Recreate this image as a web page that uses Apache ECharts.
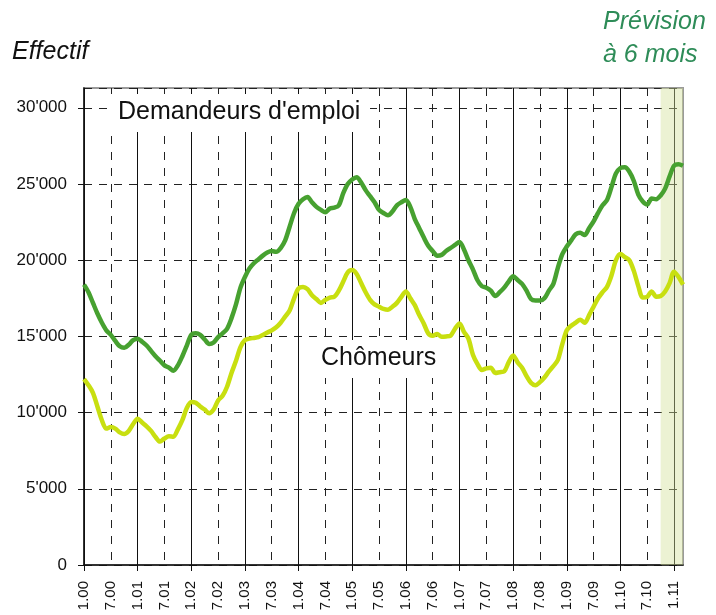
<!DOCTYPE html>
<html>
<head>
<meta charset="utf-8">
<script src="https://cdn.jsdelivr.net/npm/echarts@6/dist/echarts.min.js"></script>
<style>
html,body{margin:0;padding:0;background:#fff;}
#chart{width:716px;height:615px;}
</style>
</head>
<body>
<div id="chart"></div>
<script>
// Years covered (Jan 2000 .. Mar 2011), month labels "m.yy"
const years = ['00','01','02','03','04','05','06','07','08','09','10','11'];
const lastYearMonths = 3;

// Demandeurs d'emploi (monthly, Jan 2000 -> Mar 2011)
const demandeurs = [
  18400,17900,17200,16500,15900,15400,15100,14700,14350,14250,14450,14750,
  14850,14650,14400,14050,13700,13400,13100,12950,12750,13100,13700,14400,
  15100,15200,15100,14800,14500,14600,14950,15200,15500,16200,17100,18200,
  18900,19450,19800,20050,20300,20500,20600,20550,20800,21300,22200,23100,
  23700,24000,24150,23800,23500,23300,23150,23400,23450,23600,24400,25000,
  25300,25450,25100,24600,24200,23800,23300,23100,22950,23200,23600,23800,
  23950,23500,22700,22100,21500,20950,20600,20300,20350,20600,20800,21000,
  21200,20700,20000,19400,18700,18300,18200,18000,17650,17900,18200,18600,
  18950,18700,18450,18000,17450,17350,17350,17500,18000,18450,19500,20400,
  20900,21300,21700,21800,21650,22100,22550,23100,23600,23950,24800,25700,
  26050,26100,25800,25200,24300,23850,23650,24050,24000,24250,24700,25500,
  26200,26300,26200
];

// Chômeurs (monthly, Jan 2000 -> Mar 2011)
const chomeurs = [
  12200,11800,11300,10400,9500,8950,9050,8950,8700,8600,8800,9250,
  9600,9350,9100,8800,8400,8100,8300,8450,8420,8900,9500,10300,
  10700,10650,10400,10200,9950,10200,10800,11100,11700,12600,13400,14300,
  14750,14850,14900,14950,15100,15250,15400,15600,15900,16300,16700,17500,
  18150,18250,18100,17700,17450,17200,17400,17550,17600,18000,18600,19200,
  19350,19100,18500,17900,17400,17100,16950,16800,16750,16950,17200,17600,
  17950,17500,17050,16400,15850,15200,15050,15150,14980,15000,15050,15500,
  15850,15300,14850,13800,13200,12800,12900,12950,12600,12650,12700,13300,
  13750,13300,12950,12400,11950,11800,12000,12300,12700,13050,13450,14500,
  15400,15700,15900,16100,15900,16400,16950,17500,17900,18250,19000,20000,
  20400,20200,20000,19300,18300,17550,17600,17950,17600,17650,17950,18500,
  19250,18900,18400
];

const yTicks = [0, 5000, 10000, 15000, 20000, 25000, 30000];
const forecastStart = '10.10';
const forecastEnd = '3.11';

const categories = [];
years.forEach((yy, i) => {
  const n = (i === years.length - 1) ? lastYearMonths : 12;
  for (let m = 1; m <= n; m++) categories.push(m + '.' + yy);
});

const chart = echarts.init(document.getElementById('chart'), null, {renderer: 'canvas'});

const baseX = {
  type: 'category',
  data: categories,
  boundaryGap: false,
  gridIndex: 0
};

chart.setOption({
  animation: false,
  backgroundColor: '#fff',
  grid: {
    left: 84, right: 33, top: 88, bottom: 50,
    show: true, borderColor: '#9a9a9a', borderWidth: 2, backgroundColor: 'transparent'
  },
  xAxis: [
    Object.assign({}, baseX, {
      position: 'bottom',
      axisLine: {show: true, lineStyle: {color: '#111', width: 1.5}},
      axisTick: {show: true, length: 6, interval: (i) => i % 12 === 0, lineStyle: {color: '#111'}},
      axisLabel: {
        show: true, rotate: 90, interval: (i) => i % 6 === 0, margin: 16,
        fontFamily: 'Liberation Sans, Arial, sans-serif', fontSize: 15, color: '#111'
      },
      splitLine: {show: true, interval: (i) => i % 12 === 0, lineStyle: {color: '#111', width: 1, type: 'solid'}}
    }),
    Object.assign({}, baseX, {
      position: 'top',
      axisLine: {show: false},
      axisTick: {show: false},
      axisLabel: {show: false},
      splitLine: {show: true, interval: (i) => i % 12 === 6, lineStyle: {color: '#222', width: 1, type: [8, 8]}}
    })
  ],
  yAxis: {
    type: 'value',
    min: 0, max: 31300, interval: 5000,
    axisLine: {show: true, lineStyle: {color: '#111', width: 1.5}},
    axisTick: {show: true, length: 6, inside: false, lineStyle: {color: '#111'}},
    axisLabel: {
      margin: 17, showMaxLabel: false,
      fontFamily: 'Liberation Sans, Arial, sans-serif', fontSize: 17, color: '#111',
      formatter: (v) => yTicks.indexOf(v) < 0 ? '' : (v === 0 ? '0' : (v / 1000) + "'000")
    },
    splitLine: {show: true, lineStyle: {color: '#222', width: 1, type: [8, 7]}}
  },
  series: [
    {
      name: 'Chômeurs', type: 'line', data: chomeurs, xAxisIndex: 0,
      showSymbol: false, smooth: 0.3,
      lineStyle: {color: '#c8df10', width: 4.5},
      z: 3,
      markArea: {
        silent: true,
        itemStyle: {color: 'rgba(210,224,150,0.42)'},
        data: [[{xAxis: forecastStart}, {xAxis: forecastEnd}]]
      }
    },
    {
      name: "Demandeurs d'emploi", type: 'line', data: demandeurs, xAxisIndex: 0,
      showSymbol: false, smooth: 0.3,
      lineStyle: {color: '#47a130', width: 4.5},
      z: 4
    }
  ],
  graphic: [
    {type: 'text', left: 12, top: 40, z: 20,
     style: {text: 'Effectif', font: 'italic 25px "Liberation Sans", Arial, sans-serif', fill: '#111'}},
    {type: 'text', left: 603, top: 6, z: 20,
     style: {text: 'Prévision\nà 6 mois', font: 'italic 25px "Liberation Sans", Arial, sans-serif', fill: '#2e8c58', lineHeight: 33}},
    {type: 'rect', shape: {x: 108, y: 94, width: 262, height: 38}, style: {fill: '#fff'}, z: 15},
    {type: 'text', left: 118, top: 100, z: 20,
     style: {text: "Demandeurs d'emploi", font: '25px "Liberation Sans", Arial, sans-serif', fill: '#111'}},
    {type: 'rect', shape: {x: 309, y: 340, width: 136, height: 38}, style: {fill: '#fff'}, z: 15},
    {type: 'text', left: 321, top: 346, z: 20,
     style: {text: 'Chômeurs', font: '25px "Liberation Sans", Arial, sans-serif', fill: '#111'}}
  ]
});
</script>
</body>
</html>
